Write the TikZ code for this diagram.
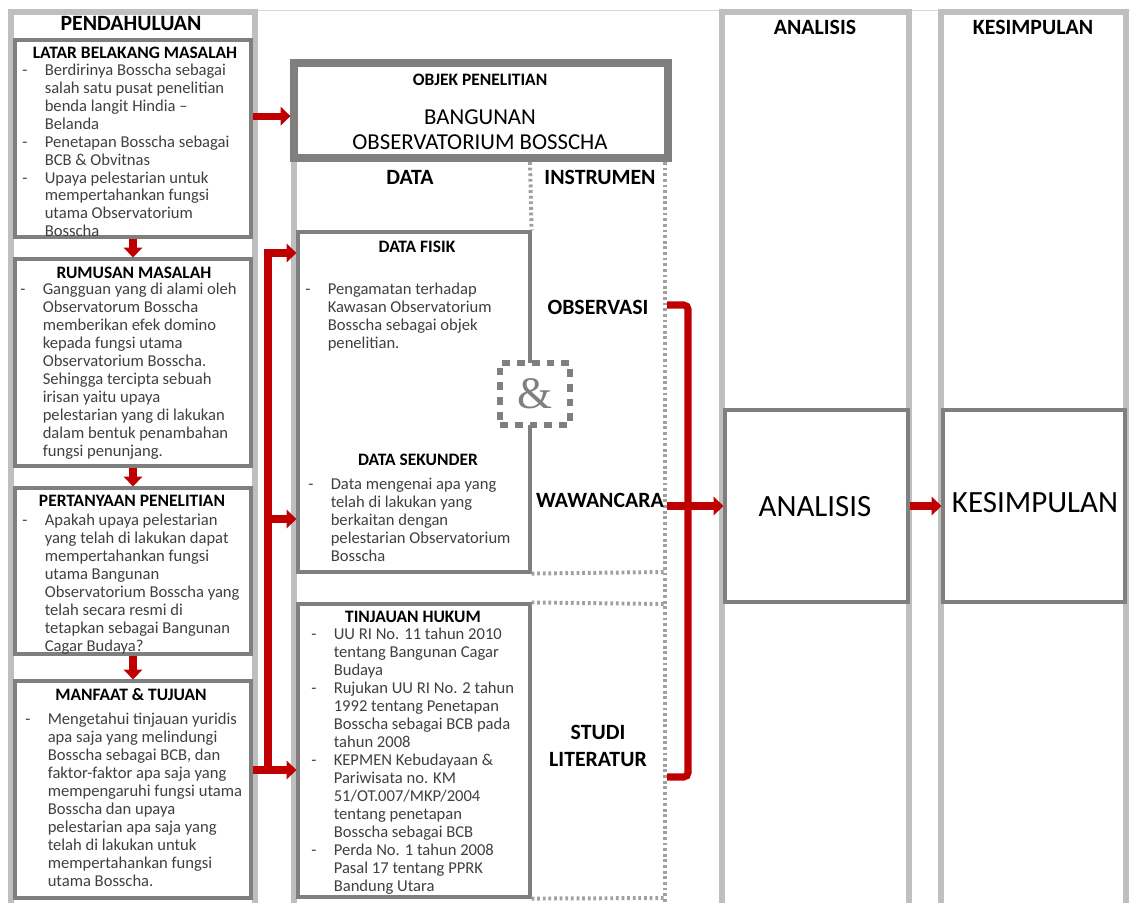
\documentclass[tikz,border=0pt]{standalone}
\usepackage{fontspec}
\setmainfont{Carlito}
\newfontfamily\ampfont{Liberation Serif}
\usetikzlibrary{arrows.meta,fit}

\definecolor{bandgray}{HTML}{BFBFBF}
\definecolor{boxgray}{HTML}{7F7F7F}
\definecolor{dotgray}{HTML}{A0A0A0}
\definecolor{arrred}{HTML}{C00000}
\definecolor{txtgray}{HTML}{404040}

\newcommand\bodyfont{\fontsize{11.8}{12.8}\selectfont}
\newcommand\subfont{\fontsize{12.4}{14}\selectfont\bfseries}
\newcommand\headfont{\fontsize{15.5}{18}\selectfont}
\newcommand\bigfont{\fontsize{22}{26}\selectfont}
\newenvironment{blist}{\begin{tabular}[t]{@{}p{16pt}@{}l@{}}}{\end{tabular}}

\tikzset{
  band/.style={draw=bandgray, line width=4.3pt},
  dotband/.style={draw=dotgray, line width=2.8pt, dash pattern=on 2pt off 2pt},
  darkbox/.style={draw=boxgray, line width=2.2pt, fill=white, inner sep=0pt},
  bodytxt/.style={anchor=base west, inner sep=0pt, text=txtgray, font=\bodyfont},
  subtitle/.style={inner sep=0pt, font=\subfont},
  headtxt/.style={inner sep=0pt, font=\headfont},
  headbold/.style={inner sep=0pt, font=\headfont\bfseries},
  redline/.style={draw=arrred, line width=5pt},
  redarrow/.style={redline, -{Triangle[length=7pt,width=13pt]}},
}

\begin{document}
\begin{tikzpicture}[x=0.025cm,y=-0.025cm]
\path[use as bounding box, fill=white] (0,0) rectangle (1130,902);
% Draw column frames
\draw[bandgray!60, line width=0.6pt] (255,10) -- (1130,10);
\foreach \l/\r in {11/255,722/909,941/1126} {
	\draw[band] (\l,905) -- (\l,12) -- (\r,12) -- (\r,905);
}
\draw[band] (294,160) -- (294,905);
\draw[dotband] (665,162) -- (665,905);

% Left column boxes
\node[darkbox, fit={(15,40) (251,237)}] (latar) {};
\node[darkbox, fit={(15,259) (251,466)}] (rumusan) {};
\node[darkbox, fit={(15,488) (251,654)}] (pertanyaan) {};
\node[darkbox, fit={(15,681) (251,898)}] (manfaat) {};

% Middle column boxes
\node[darkbox, line width=5pt, fit={(294,63) (668,158)}] (objek) {};
\node[darkbox, fit={(298,232) (530,572)}] (databox) {};
\node[darkbox, fit={(298,604) (530,897)}] (tinjauan) {};
\draw[dotband] (530,162) -- (databox.north east);
\draw[dotband] (databox.south east) -- (665,572);
\draw[dotband] (tinjauan.north east) -- (665,604);
\draw[dotband] (tinjauan.south east) -- (665,898);
\node[draw=boxgray, line width=4.5pt, dash pattern=on 5.5pt off 5pt, fill=white,
	inner sep=0pt, fit={(500,363) (570,425)}] (ampbox) {};
\node[text=boxgray, inner sep=0pt, font=\ampfont\fontsize{32}{36}\selectfont] (amp) at (ampbox) {\&};

% Right column boxes
\node[darkbox, fit={(725,410) (908,602)}] (anbox) {};
\node[darkbox, fit={(943,410) (1125,602)}] (kebox) {};

% Headings
\node[headbold] (pend) at (131,24) {PENDAHULUAN};
\node[headbold] (an-head) at (815,27) {ANALISIS};
\node[headbold] (ke-head) at (1033,27) {KESIMPULAN};
\node[subtitle] (objek-title) at (480,80) {OBJEK PENELITIAN};
\node[headtxt, align=center, font=\fontsize{16.2}{18}\selectfont] (bangunan) at (480,130) {BANGUNAN\\OBSERVATORIUM BOSSCHA};
\node[headbold] (data) at (410,177) {DATA};
\node[headbold] (instrumen) at (600,177) {INSTRUMEN};
\node[headbold] (obs) at (598,307) {OBSERVASI};
\node[headbold] (waw) at (600,500) {WAWANCARA};
\node[headbold, align=center, font=\fontsize{15.5}{19}\selectfont\bfseries] (studi) at (598,746) {STUDI\\LITERATUR};
\node[inner sep=0pt, font=\bigfont] (analisis) at (815,507) {ANALISIS};
\node[inner sep=0pt, font=\bigfont] (kesimpulan) at (1035,503) {KESIMPULAN};

% Box titles
\node[subtitle] (latar-title) at (135,53) {LATAR BELAKANG MASALAH};
\node[subtitle] (rumusan-title) at (134,273) {RUMUSAN MASALAH};
\node[subtitle] (pertanyaan-title) at (132,501) {PERTANYAAN PENELITIAN};
\node[subtitle] (manfaat-title) at (131,695) {MANFAAT \& TUJUAN};
\node[subtitle] (fisik-title) at (417,247) {DATA FISIK};
\node[subtitle] (sekunder-title) at (418,460) {DATA SEKUNDER};
\node[subtitle] (hukum-title) at (413,617) {TINJAUAN HUKUM};

% Box texts
\node[bodytxt] (latar-txt) at (22,75) {\begin{blist}
- & Berdirinya Bosscha sebagai\\
  & salah satu pusat penelitian\\
  & benda langit Hindia –\\
  & Belanda\\
- & Penetapan Bosscha sebagai\\
  & BCB \& Obvitnas\\
- & Upaya pelestarian untuk\\
  & mempertahankan fungsi\\
  & utama Observatorium\\
  & Bosscha
\end{blist}};
\node[bodytxt] (rumusan-txt) at (20,294) {\begin{blist}
- & Gangguan yang di alami oleh\\
  & Observatorum Bosscha\\
  & memberikan efek domino\\
  & kepada fungsi utama\\
  & Observatorium Bosscha.\\
  & Sehingga tercipta sebuah\\
  & irisan yaitu upaya\\
  & pelestarian yang di lakukan\\
  & dalam bentuk penambahan\\
  & fungsi penunjang.
\end{blist}};
\node[bodytxt] (pertanyaan-txt) at (22,525) {\begin{blist}
- & Apakah upaya pelestarian\\
  & yang telah di lakukan dapat\\
  & mempertahankan fungsi\\
  & utama Bangunan\\
  & Observatorium Bosscha yang\\
  & telah secara resmi di\\
  & tetapkan sebagai Bangunan\\
  & Cagar Budaya?
\end{blist}};
\node[bodytxt] (manfaat-txt) at (25,724) {\begin{blist}
- & Mengetahui tinjauan yuridis\\
  & apa saja yang melindungi\\
  & Bosscha sebagai BCB, dan\\
  & faktor-faktor apa saja yang\\
  & mempengaruhi fungsi utama\\
  & Bosscha dan upaya\\
  & pelestarian apa saja yang\\
  & telah di lakukan untuk\\
  & mempertahankan fungsi\\
  & utama Bosscha.
\end{blist}};
\node[bodytxt] (fisik-txt) at (305,294) {\begin{blist}
- & Pengamatan terhadap\\
  & Kawasan Observatorium\\
  & Bosscha sebagai objek\\
  & penelitian.
\end{blist}};
\node[bodytxt] (sekunder-txt) at (308,489) {\begin{blist}
- & Data mengenai apa yang\\
  & telah di lakukan yang\\
  & berkaitan dengan\\
  & pelestarian Observatorium\\
  & Bosscha
\end{blist}};
\node[bodytxt] (hukum-txt) at (311,639) {\begin{blist}
- & UU RI No. 11 tahun 2010\\
  & tentang Bangunan Cagar\\
  & Budaya\\
- & Rujukan UU RI No. 2 tahun\\
  & 1992 tentang Penetapan\\
  & Bosscha sebagai BCB pada\\
  & tahun 2008\\
- & KEPMEN Kebudayaan \&\\
  & Pariwisata no. KM\\
  & 51/OT.007/MKP/2004\\
  & tentang penetapan\\
  & Bosscha sebagai BCB\\
- & Perda No. 1 tahun 2008\\
  & Pasal 17 tentang PPRK\\
  & Bandung Utara
\end{blist}};

% Draw arrows
\coordinate (objin) at ([yshift=-4pt]objek.west);
\draw[redarrow] (latar.east |- objin) -- (objin);
\foreach \a/\b in {latar/rumusan,rumusan/pertanyaan,pertanyaan/manfaat} {
	\draw[redarrow] (\a.south) -- (\b.north);
}
\coordinate (brk) at (268,770);
\draw[redarrow] (manfaat.east |- brk) -- (tinjauan.west |- brk);
\draw[redarrow] (brk) |- (databox.west |- 0,253);
\draw[redarrow] (brk |- 0,519) -- (databox.west |- 0,519);
\coordinate (colR) at (667,0);
\coordinate (rbk) at (688,0);
\draw[redline, rounded corners=3pt] (colR |- 0,305) -| (rbk |- 0,777) -- (colR |- 0,777);
\draw[redarrow] (colR |- anbox.west) -- (anbox.west);
\draw[redarrow] (anbox.east) -- (kebox.west);
\end{tikzpicture}
\end{document}
